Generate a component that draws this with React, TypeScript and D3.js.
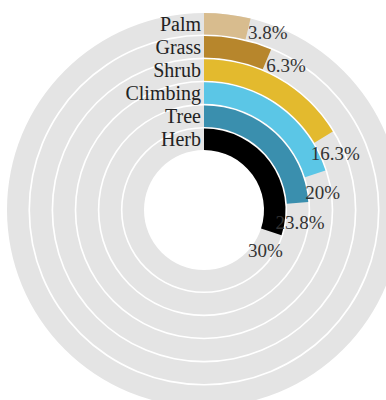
import React from "react";
import * as d3 from "d3";

const categories = ["Herb", "Tree", "Climbing", "Shrub", "Grass", "Palm"];
const values = [30, 23.8, 20, 16.3, 6.3, 3.8];
const valueLabels = ["30%", "23.8%", "20%", "16.3%", "6.3%", "3.8%"];
const colors = ["#000000", "#3a8fae", "#5bc6e6", "#e3ba2e", "#b7862c", "#d8bc8e"];

const W = 386;
const H = 400;
const cx = 204;
const cy = 210;
const innerR = 60;
const outerR = 197;

export default function App() {
  const r = d3.scaleBand<string>().domain(categories).range([innerR, outerR]).paddingInner(0.07).paddingOuter(0);
  const a = d3.scaleLinear().domain([0, 100]).range([0, 2 * Math.PI]);
  const arc = d3.arc<any>();
  const step = r.step();
  const bw = r.bandwidth();

  const tracks = categories.map((c) => ({
    inner: r(c)!,
    outer: r(c)! + bw,
  }));

  return (
    <svg width={W} height={H} style={{ position: "absolute", left: 0, top: 0, background: "#fff" }}>
      <g transform={`translate(${cx},${cy})`}>
        {/* gray tracks */}
        {tracks.map((t, i) => (
          <path
            key={"t" + i}
            d={arc({ innerRadius: t.inner, outerRadius: t.outer, startAngle: 0, endAngle: 2 * Math.PI }) || ""}
            fill="#e4e4e4"
          />
        ))}
        {/* bars */}
        {categories.map((c, i) => (
          <path
            key={"b" + i}
            d={arc({ innerRadius: r(c)!, outerRadius: r(c)! + bw, startAngle: 0, endAngle: a(values[i]) }) || ""}
            fill={colors[i]}
          />
        ))}
        {/* category labels */}
        {categories.map((c, i) => (
          <text
            key={"l" + i}
            x={-3}
            y={-(r(c)! + bw / 2)}
            dy="0.35em"
            textAnchor="end"
            fontFamily="'Liberation Serif', 'Times New Roman', serif"
            fontSize={20}
            fill="#222"
          >
            {c}
          </text>
        ))}
        {/* value labels */}
        {categories.map((c, i) => {
          const rm = r(c)! + bw / 2 + 3;
          const ang = a(values[i]) + 20 / rm;
          const x = rm * Math.sin(ang);
          const y = -rm * Math.cos(ang);
          return (
            <text
              key={"v" + i}
              x={x}
              y={y}
              dy="0.35em"
              textAnchor="middle"
              fontFamily="'Liberation Serif', 'Times New Roman', serif"
              fontSize={19}
              fill="#333"
            >
              {valueLabels[i]}
            </text>
          );
        })}
      </g>
    </svg>
  );
}
